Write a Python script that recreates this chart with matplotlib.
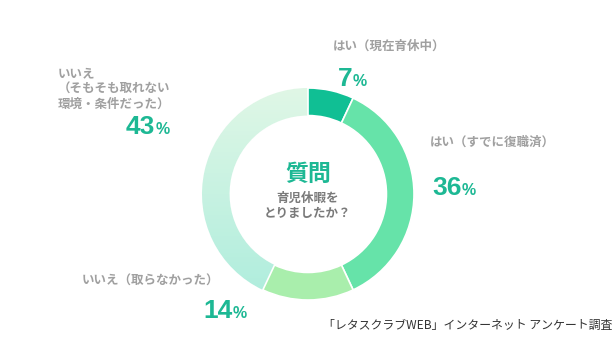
import matplotlib
matplotlib.use("Agg")
import matplotlib.pyplot as plt
import matplotlib.transforms as mtrans
import numpy as np
from matplotlib.colors import LinearSegmentedColormap

plt.rcParams['font.family'] = ['Noto Sans CJK JP', 'DejaVu Sans']

categories = ["はい（現在育休中）", "はい（すでに復職済）", "いいえ（取らなかった）",
              "いいえ\n（そもそも取れない\n環境・条件だった）"]
values = [7, 36, 14, 43]
colors = ["#10bf94", "#66e3a9", "#a9eeac", "#c6f1de"]
center_title = "質問"
center_question = "育児休暇を\nとりましたか？"
source = "「レタスクラブWEB」インターネット アンケート調査"

W, H = 615, 346
fig = plt.figure(figsize=(W / 100, H / 100), dpi=100)
fig.patch.set_facecolor("white")

# pie axes
cx, cy, R = 308, 194, 106
pax = fig.add_axes([(cx - R) / W, (H - cy - R) / H, 2 * R / W, 2 * R / H])
wedges, _ = pax.pie(values, colors=colors, startangle=90, counterclock=False,
                    radius=1.0, wedgeprops=dict(width=0.26, edgecolor="white", linewidth=1.2))

# gradient on the last segment
grad = np.linspace(0, 1, 256).reshape(-1, 1)
cmap = LinearSegmentedColormap.from_list("g", ["#e0f7e6", "#aeeddd"])
im = pax.imshow(grad, extent=[-1, 1, -1, 1], origin="upper", cmap=cmap, aspect="auto", zorder=0.5)
im.set_clip_path(wedges[3])
wedges[3].set_zorder(0.4)
pax.set_xlim(-1, 1)
pax.set_ylim(-1, 1)
pax.set_aspect("equal")
pax.axis("off")

# text overlay axes in pixel coords
ax = fig.add_axes([0, 0, 1, 1], facecolor="none")
ax.set_xlim(0, W)
ax.set_ylim(H, 0)
ax.axis("off")

gray = "#a0a0a0"
teal = "#1db894"
numfont = ["Liberation Sans", "DejaVu Sans"]

def pct(x, y, v):
    t = ax.text(x, y, str(v), color=teal, fontsize=19, fontweight="bold",
                ha="left", va="baseline", family=numfont)
    fig.canvas.draw()
    bb = t.get_window_extent()
    ax.text(bb.x1, y, "%", color=teal, fontsize=11.5, fontweight="bold", ha="left", va="baseline",
            transform=mtrans.blended_transform_factory(mtrans.IdentityTransform(), ax.transData),
            family=numfont)

# labels
ax.text(333, 46, categories[0], color=gray, fontsize=9, fontweight="bold", ha="left", va="center")
pct(338, 86, values[0])
ax.text(430, 142, categories[1], color=gray, fontsize=9, fontweight="bold", ha="left", va="center")
pct(432, 195, values[1])
ax.text(82, 281, categories[2], color=gray, fontsize=9, fontweight="bold", ha="left", va="center")
pct(203, 318, values[2])
ax.text(58, 89, categories[3], color=gray, fontsize=9, fontweight="bold", ha="left", va="center",
        linespacing=1.2)
pct(126, 134, values[3])

ax.text(308, 174, center_title, color=teal, fontsize=16.5, fontweight="bold", ha="center", va="center")
ax.text(308, 206, center_question, color="#7a7a7a", fontsize=9, fontweight="bold", ha="center",
        va="center", linespacing=1.25)

ax.text(612, 325, source, color="#333333", fontsize=8.6, ha="right", va="center")

fig.savefig("out.png", dpi=100, facecolor="white")
